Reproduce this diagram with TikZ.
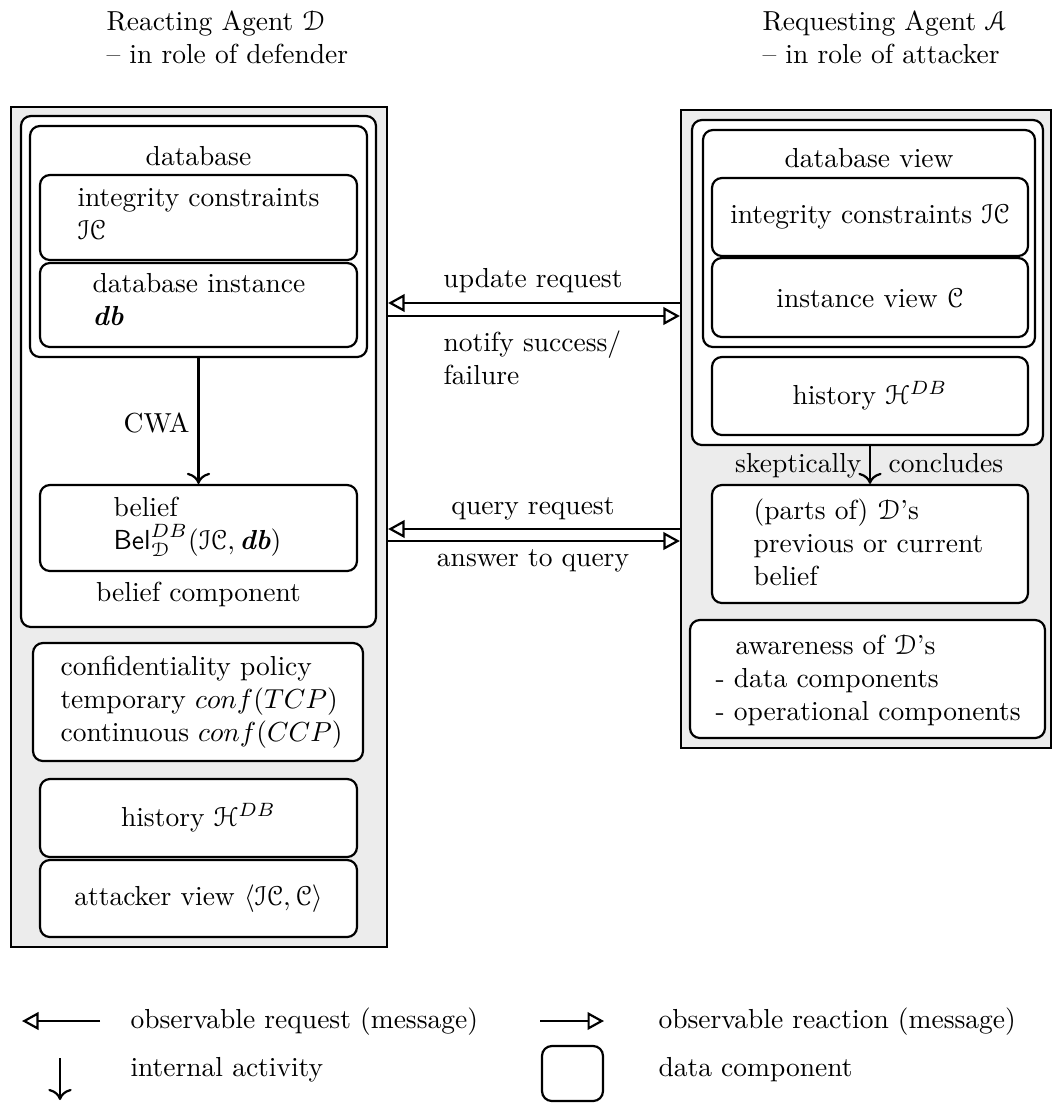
\documentclass[tikz,border=0pt]{standalone}
\usepackage[mathcal]{eucal}
\usetikzlibrary{arrows.meta,fit}
\definecolor{panelgray}{RGB}{236,236,236}
\begin{document}
\begin{tikzpicture}[x=0.3636pt,y=-0.3636pt,
  panel/.style={draw, fill=panelgray, line width=0.8pt, inner sep=0pt},
  comp/.style={draw, fill=white, rounded corners=3.6pt, line width=0.8pt, inner sep=0pt},
  txt/.style={inner sep=0pt, align=left},
  reqarrow/.style={line width=0.8pt, -{Triangle[open, length=6pt, width=6.4pt]}},
  intarrow/.style={line width=0.8pt, -{To[scale=1.2]}},
]
\useasboundingbox (0,0) rectangle (1052,1104);

% headers
\node[txt, anchor=north west] (hdL) at (106,10) {Reacting Agent $\mathcal{D}$\\\textendash{} in role of defender};
\node[txt, anchor=north west] (hdR) at (762,10) {Requesting Agent $\mathcal{A}$\\\textendash{} in role of attacker};

% left agent
\node[panel, fit={(11,107)(387,947)}] (lp) {};
\node[comp, fit={(21,116)(376,627)}] (bc) {};
\node[comp, fit={(30,126)(367,357)}] (dbx) {};
\node[comp, fit={(40,175)(357,260)}] (ic) {};
\node[comp, fit={(40,263)(357,347)}] (dbi) {};
\node[comp, fit={(40,485)(357,571)}] (bel) {};
\node[comp, fit={(33,643)(363,761)}] (conf) {};
\node[comp, fit={(40,779)(357,857)}] (hist) {};
\node[comp, fit={(40,860)(357,937)}] (att) {};

\node[txt, anchor=base] (tdb) at (198.5,165) {database};
\node[txt, anchor=north west] (tic) at (77,188) {integrity constraints\\$\mathcal{IC}$};
\node[txt, anchor=north west] (tdbi) at (92,273) {database instance\\$\textbf{\textit{db}}$};
\node[txt, anchor=base east] (tcwa) at (190,432) {CWA};
\draw[intarrow] (dbx.south) -- (bel.north);
\node[txt, anchor=north west] (tbel) at (113,497) {belief\\$\mathsf{Bel}^{DB}_{\mathcal{D}}(\mathcal{IC},\textbf{\textit{db}})$};
\node[txt, anchor=base] (tbc) at (198.5,601) {belief component};
\node[txt, anchor=north west] (tconf) at (60,656) {confidentiality policy\\temporary $conf(TCP)$\\continuous $conf(CCP)$};
\node[txt] (thist) at (hist.center) {history $\mathcal{H}^{DB}$};
\node[txt] (tatt) at (att.center) {attacker view $\langle\mathcal{IC},\mathcal{C}\rangle$};

% right agent
\node[panel, fit={(681,110)(1051,748)}] (rp) {};
\node[comp, fit={(692,120)(1043,445)}] (rc) {};
\node[comp, fit={(703,130)(1035,347)}] (dbv) {};
\node[comp, fit={(712,178)(1028,256)}] (ric) {};
\node[comp, fit={(712,258)(1028,337)}] (riv) {};
\node[comp, fit={(712,357)(1028,435)}] (rhist) {};
\node[comp, fit={(712,485)(1028,603)}] (rbel) {};
\node[comp, fit={(690,620)(1045,738)}] (aware) {};

\node[txt, anchor=base] (tdbv) at (869,167) {database view};
\node[txt] (tric) at (ric.center) {integrity constraints $\mathcal{IC}$};
\node[txt] (triv) at (riv.center) {instance view $\mathcal{C}$};
\node[txt] (trhist) at (rhist.center) {history $\mathcal{H}^{DB}$};
\draw[intarrow] (rbel.north |- rc.south) -- (rbel.north);
\node[txt, anchor=base east] (tsk) at (862,472) {skeptically};
\node[txt, anchor=base west] (tcon) at (888,472) {concludes};
\node[txt, anchor=north west] (trbel) at (753,498) {(parts of) $\mathcal{D}$'s\\previous or current\\belief};
\node[txt, anchor=north west] (taware) at (715,635) {\hspace*{7.3pt}awareness of $\mathcal{D}$'s\\- data components\\- operational components};

% messages
\coordinate (u1) at (0,303);
\coordinate (u2) at (0,316);
\coordinate (q1) at (0,529);
\coordinate (q2) at (0,541);
\draw[reqarrow] (rp.west |- u1) -- (lp.east |- u1);
\draw[reqarrow] (lp.east |- u2) -- (rp.west |- u2);
\draw[reqarrow] (rp.west |- q1) -- (lp.east |- q1);
\draw[reqarrow] (lp.east |- q2) -- (rp.west |- q2);
\node[txt, anchor=base] (tupd) at (533,287) {update request};
\node[txt, anchor=north west] (tnot) at (443,330) {notify success/\\failure};
\node[txt, anchor=base] (tq) at (533,514) {query request};
\node[txt, anchor=base] (tans) at (533,566) {answer to query};

% legend
\coordinate (la1) at (100,1021);
\coordinate (la2) at (22,1021);
\draw[reqarrow] (la1) -- (la2);
\node[txt, anchor=base west] (lgq) at (130,1028) {observable request (message)};
\coordinate (lr1) at (540,1021);
\coordinate (lr2) at (604,1021);
\draw[reqarrow] (lr1) -- (lr2);
\node[txt, anchor=base west] (lgr) at (658,1028) {observable reaction (message)};
\coordinate (ld1) at (60,1058);
\coordinate (ld2) at (60,1100);
\draw[intarrow] (ld1) -- (ld2);
\node[txt, anchor=base west] (lgi) at (130,1076) {internal activity};
\node[comp, fit={(542,1046)(603,1101)}] (lgbox) {};
\node[txt, anchor=base west] (lgd) at (658,1076) {data component};
\end{tikzpicture}
\end{document}
